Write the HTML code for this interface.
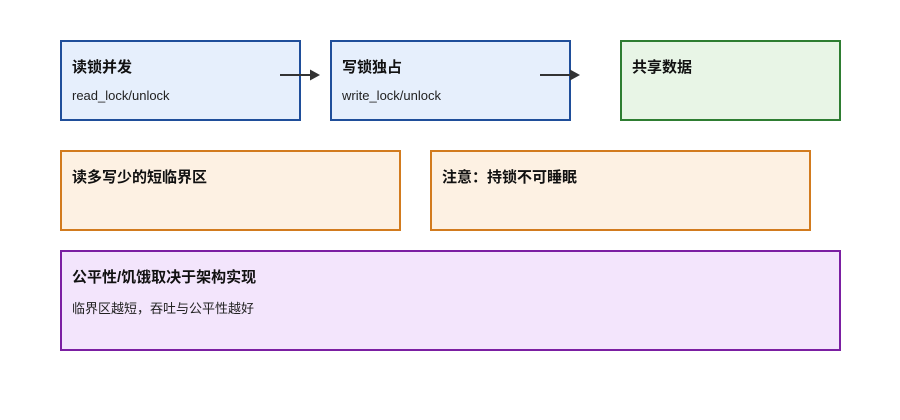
<!DOCTYPE html>
<html><head><meta charset="utf-8"><style>
body{margin:0;width:900px;height:420px;background:#fff;position:relative;font-family:"Liberation Sans","Noto Sans CJK SC",sans-serif;overflow:hidden}
.b{position:absolute;box-sizing:border-box;border:2px solid}
.t{position:absolute;left:10px;top:14px;font-size:15px;font-weight:bold;color:#111;white-space:nowrap}
.s{position:absolute;left:10px;top:46px;font-size:13px;color:#222;white-space:nowrap}
.bl{background:#e6effc;border-color:#1f4e9a}
.gr{background:#e8f5e6;border-color:#2e7d32}
.or{background:#fdf1e3;border-color:#d27b1e}
.pu{background:#f3e5fc;border-color:#7b1fa2}
</style></head><body>
<div class="b bl" style="left:60px;top:40px;width:241px;height:81px"><div class="t">读锁并发</div><div class="s">read_lock/unlock</div></div>
<div class="b bl" style="left:330px;top:40px;width:241px;height:81px"><div class="t">写锁独占</div><div class="s">write_lock/unlock</div></div>
<div class="b gr" style="left:620px;top:40px;width:221px;height:81px"><div class="t">共享数据</div></div>
<div class="b or" style="left:60px;top:150px;width:341px;height:81px"><div class="t">读多写少的短临界区</div></div>
<div class="b or" style="left:430px;top:150px;width:381px;height:81px"><div class="t">注意：持锁不可睡眠</div></div>
<div class="b pu" style="left:60px;top:250px;width:781px;height:101px"><div class="t">公平性/饥饿取决于架构实现</div><div class="s">临界区越短，吞吐与公平性越好</div></div>
<svg style="position:absolute;left:0;top:0" width="900" height="420">
<g stroke="#333" stroke-width="2"><line x1="280" y1="75" x2="311" y2="75"/><line x1="540" y1="75" x2="571" y2="75"/></g>
<g fill="#333"><polygon points="310,69.5 320,75 310,80.5"/><polygon points="570,69.5 580,75 570,80.5"/></g>
</svg>
</body></html>
